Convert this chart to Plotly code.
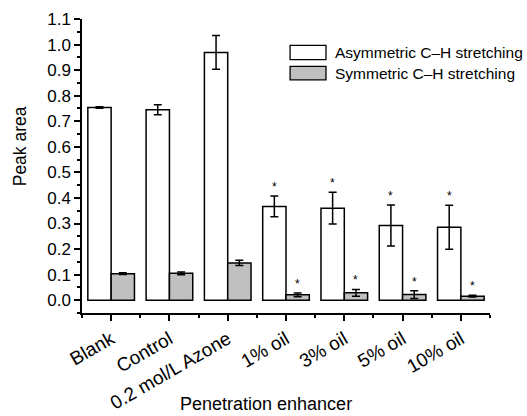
import plotly.graph_objects as go

categories = ["Blank", "Control", "0.2 mol/L Azone", "1% oil", "3% oil", "5% oil", "10% oil"]
asym_values = [0.754, 0.745, 0.969, 0.367, 0.360, 0.292, 0.285]
asym_errors = [0.003, 0.020, 0.066, 0.041, 0.062, 0.080, 0.086]
sym_values = [0.104, 0.105, 0.146, 0.021, 0.029, 0.022, 0.016]
sym_errors = [0.003, 0.005, 0.010, 0.007, 0.013, 0.015, 0.003]
significant = [False, False, False, True, True, True, True]
series_names = ["Asymmetric C\u2013H stretching", "Symmetric C\u2013H stretching"]
y_tick_values = [round(0.1 * k, 1) for k in range(12)]

FONT = "Liberation Sans, Arial, sans-serif"
xs = list(range(len(categories)))

fig = go.Figure()
fig.add_trace(go.Bar(
    x=xs, y=asym_values, name=series_names[0], showlegend=False,
    marker=dict(color="white", line=dict(color="black", width=1.5)),
    error_y=dict(type="data", array=asym_errors, color="black", thickness=1.5, width=4),
))
fig.add_trace(go.Bar(
    x=xs, y=sym_values, name=series_names[1], showlegend=False,
    marker=dict(color="#c0c0c0", line=dict(color="black", width=1.5)),
    error_y=dict(type="data", array=sym_errors, color="black", thickness=1.5, width=4),
))

annotations = []
for i, sig in enumerate(significant):
    if sig:
        annotations.append(dict(x=i - 0.2, y=asym_values[i] + asym_errors[i], xref="x", yref="y",
                                text="*", showarrow=False, yanchor="bottom",
                                font=dict(size=12, color="black", family=FONT)))
        annotations.append(dict(x=i + 0.2, y=sym_values[i] + sym_errors[i], xref="x", yref="y",
                                text="*", showarrow=False, yanchor="bottom",
                                font=dict(size=12, color="black", family=FONT)))

# axis titles
annotations.append(dict(x=0.452, y=-0.309, xref="paper", yref="paper", text="Penetration enhancer",
                        showarrow=False, xanchor="center", yanchor="middle",
                        font=dict(size=18, color="black", family=FONT)))
annotations.append(dict(x=-0.152, y=0.567, xref="paper", yref="paper", text="Peak area",
                        showarrow=False, textangle=-90, xanchor="center", yanchor="middle",
                        font=dict(size=17.5, color="black", family=FONT)))

# manual legend
shapes = []
legend_fills = ["white", "#c0c0c0"]
legend_rows = [(0.910, 0.862), (0.839, 0.793)]
for (ytop, ybot), fill, name in zip(legend_rows, legend_fills, series_names):
    shapes.append(dict(type="rect", xref="paper", yref="paper", x0=0.51, x1=0.598, y0=ybot, y1=ytop,
                       fillcolor=fill, line=dict(color="black", width=1.3)))
    annotations.append(dict(x=0.6145, y=(ytop + ybot) / 2, xref="paper", yref="paper", text=name,
                            showarrow=False, xanchor="left", yanchor="middle",
                            font=dict(size=15.5, color="black", family=FONT)))

fig.update_layout(
    width=527, height=416,
    margin=dict(l=82, r=37, t=19, b=103, autoexpand=False),
    paper_bgcolor="white", plot_bgcolor="white",
    barmode="group", bargap=0.2, bargroupgap=0,
    font=dict(family=FONT, size=17, color="black"),
    annotations=annotations, shapes=shapes,
    showlegend=False,
)
fig.update_xaxes(
    range=[-0.5, len(categories) - 0.5],
    tickmode="array", tickvals=xs, ticktext=categories, tickangle=-30,
    showline=True, linecolor="black", linewidth=1.5,
    ticks="outside", ticklen=6, tickwidth=1.5, tickcolor="black",
    minor=dict(tick0=-0.5, dtick=1, ticks="outside", ticklen=3.5, tickwidth=1.5, tickcolor="black"),
    showgrid=False, zeroline=False,
    tickfont=dict(size=19, family=FONT),
)
fig.update_yaxes(
    range=[-0.05, 1.1],
    tickmode="array", tickvals=y_tick_values, tickformat=".1f",
    showline=True, linecolor="black", linewidth=1.5,
    ticks="outside", ticklen=6, tickwidth=1.5, tickcolor="black",
    minor=dict(dtick=0.05, tick0=0, ticks="outside", ticklen=3, tickwidth=1.5, tickcolor="black"),
    showgrid=False, zeroline=False,
    tickfont=dict(size=17, family=FONT),
)

fig.write_html("out.html", config={"displayModeBar": False},
               post_script="document.body.style.margin='0px';")
